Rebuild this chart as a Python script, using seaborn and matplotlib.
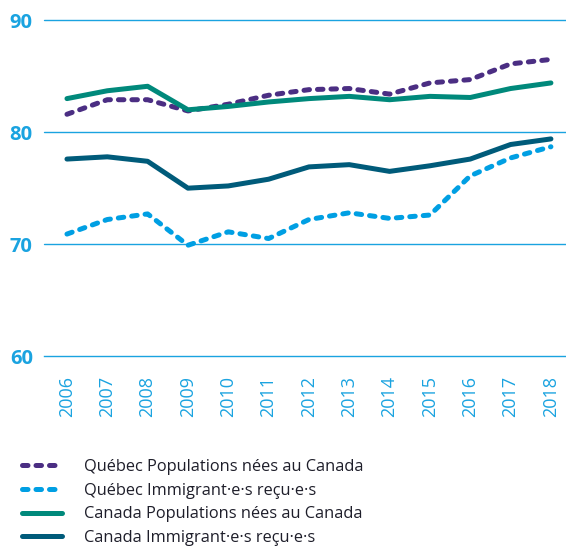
import pandas as pd
import matplotlib.pyplot as plt
import seaborn as sns

# Données
annees = list(range(2006, 2019))
qc_nes = [81.6, 82.9, 82.9, 81.9, 82.5, 83.3, 83.8, 83.9, 83.4, 84.4, 84.7, 86.1, 86.5]
qc_immigrants = [70.9, 72.2, 72.7, 69.9, 71.1, 70.5, 72.2, 72.8, 72.3, 72.6, 76.1, 77.7, 78.7]
ca_nes = [83.0, 83.7, 84.1, 82.0, 82.3, 82.7, 83.0, 83.2, 82.9, 83.2, 83.1, 83.9, 84.4]
ca_immigrants = [77.6, 77.8, 77.4, 75.0, 75.2, 75.8, 76.9, 77.1, 76.5, 77.0, 77.6, 78.9, 79.4]

series = [
    ("Québec Populations nées au Canada", qc_nes, "#4b2e83", (0, (1.1, 1.6))),
    ("Québec Immigrant·e·s reçu·e·s", qc_immigrants, "#009fe3", (0, (1.1, 1.6))),
    ("Canada Populations nées au Canada", ca_nes, "#00897b", "-"),
    ("Canada Immigrant·e·s reçu·e·s", ca_immigrants, "#005b7a", "-"),
]

bleu = "#1aa3e0"

sns.set_style("white")
plt.rcParams['font.family'] = ['Open Sans', 'DejaVu Sans']

fig = plt.figure(figsize=(5.66, 5.47), dpi=100)
ax = fig.add_axes([0.0777, 0.349, 0.922, 0.614])

for nom, valeurs, couleur, style in series:
    df = pd.DataFrame({"annee": annees, "valeur": valeurs})
    sns.lineplot(data=df, x="annee", y="valeur", ax=ax, color=couleur,
                 linewidth=3.6, linestyle=style, label=nom,
                 dash_capstyle="round", solid_capstyle="round", clip_on=False)

ax.set_xlim(2005.43, 2018.37)
ax.set_ylim(60, 90)
ax.set_yticks([60, 70, 80, 90])
ax.set_xticks(annees)
ax.set_xticklabels([str(a) for a in annees], rotation=90)
ax.set_xlabel("")
ax.set_ylabel("")

for y in [70, 80, 90]:
    ax.axhline(y, color=bleu, linewidth=1.0, zorder=0, clip_on=False)

for s in ["top", "right", "left"]:
    ax.spines[s].set_visible(False)
ax.spines["bottom"].set_color(bleu)
ax.spines["bottom"].set_linewidth(1.0)

ax.tick_params(axis="x", direction="inout", length=13, width=1.0, color=bleu,
               labelcolor=bleu, labelsize=13, pad=8)
ax.tick_params(axis="y", length=0, labelcolor=bleu, labelsize=14.5, pad=8)
for lab in ax.get_yticklabels():
    lab.set_fontweight("bold")

ax.legend(loc="upper left", bbox_to_anchor=(-0.07, -0.262), frameon=False,
          fontsize=11.8, handlelength=2.44, handletextpad=1.31,
          labelspacing=0.47, labelcolor="#1e1e2a")

plt.savefig("out.png", dpi=100)
plt.close()
